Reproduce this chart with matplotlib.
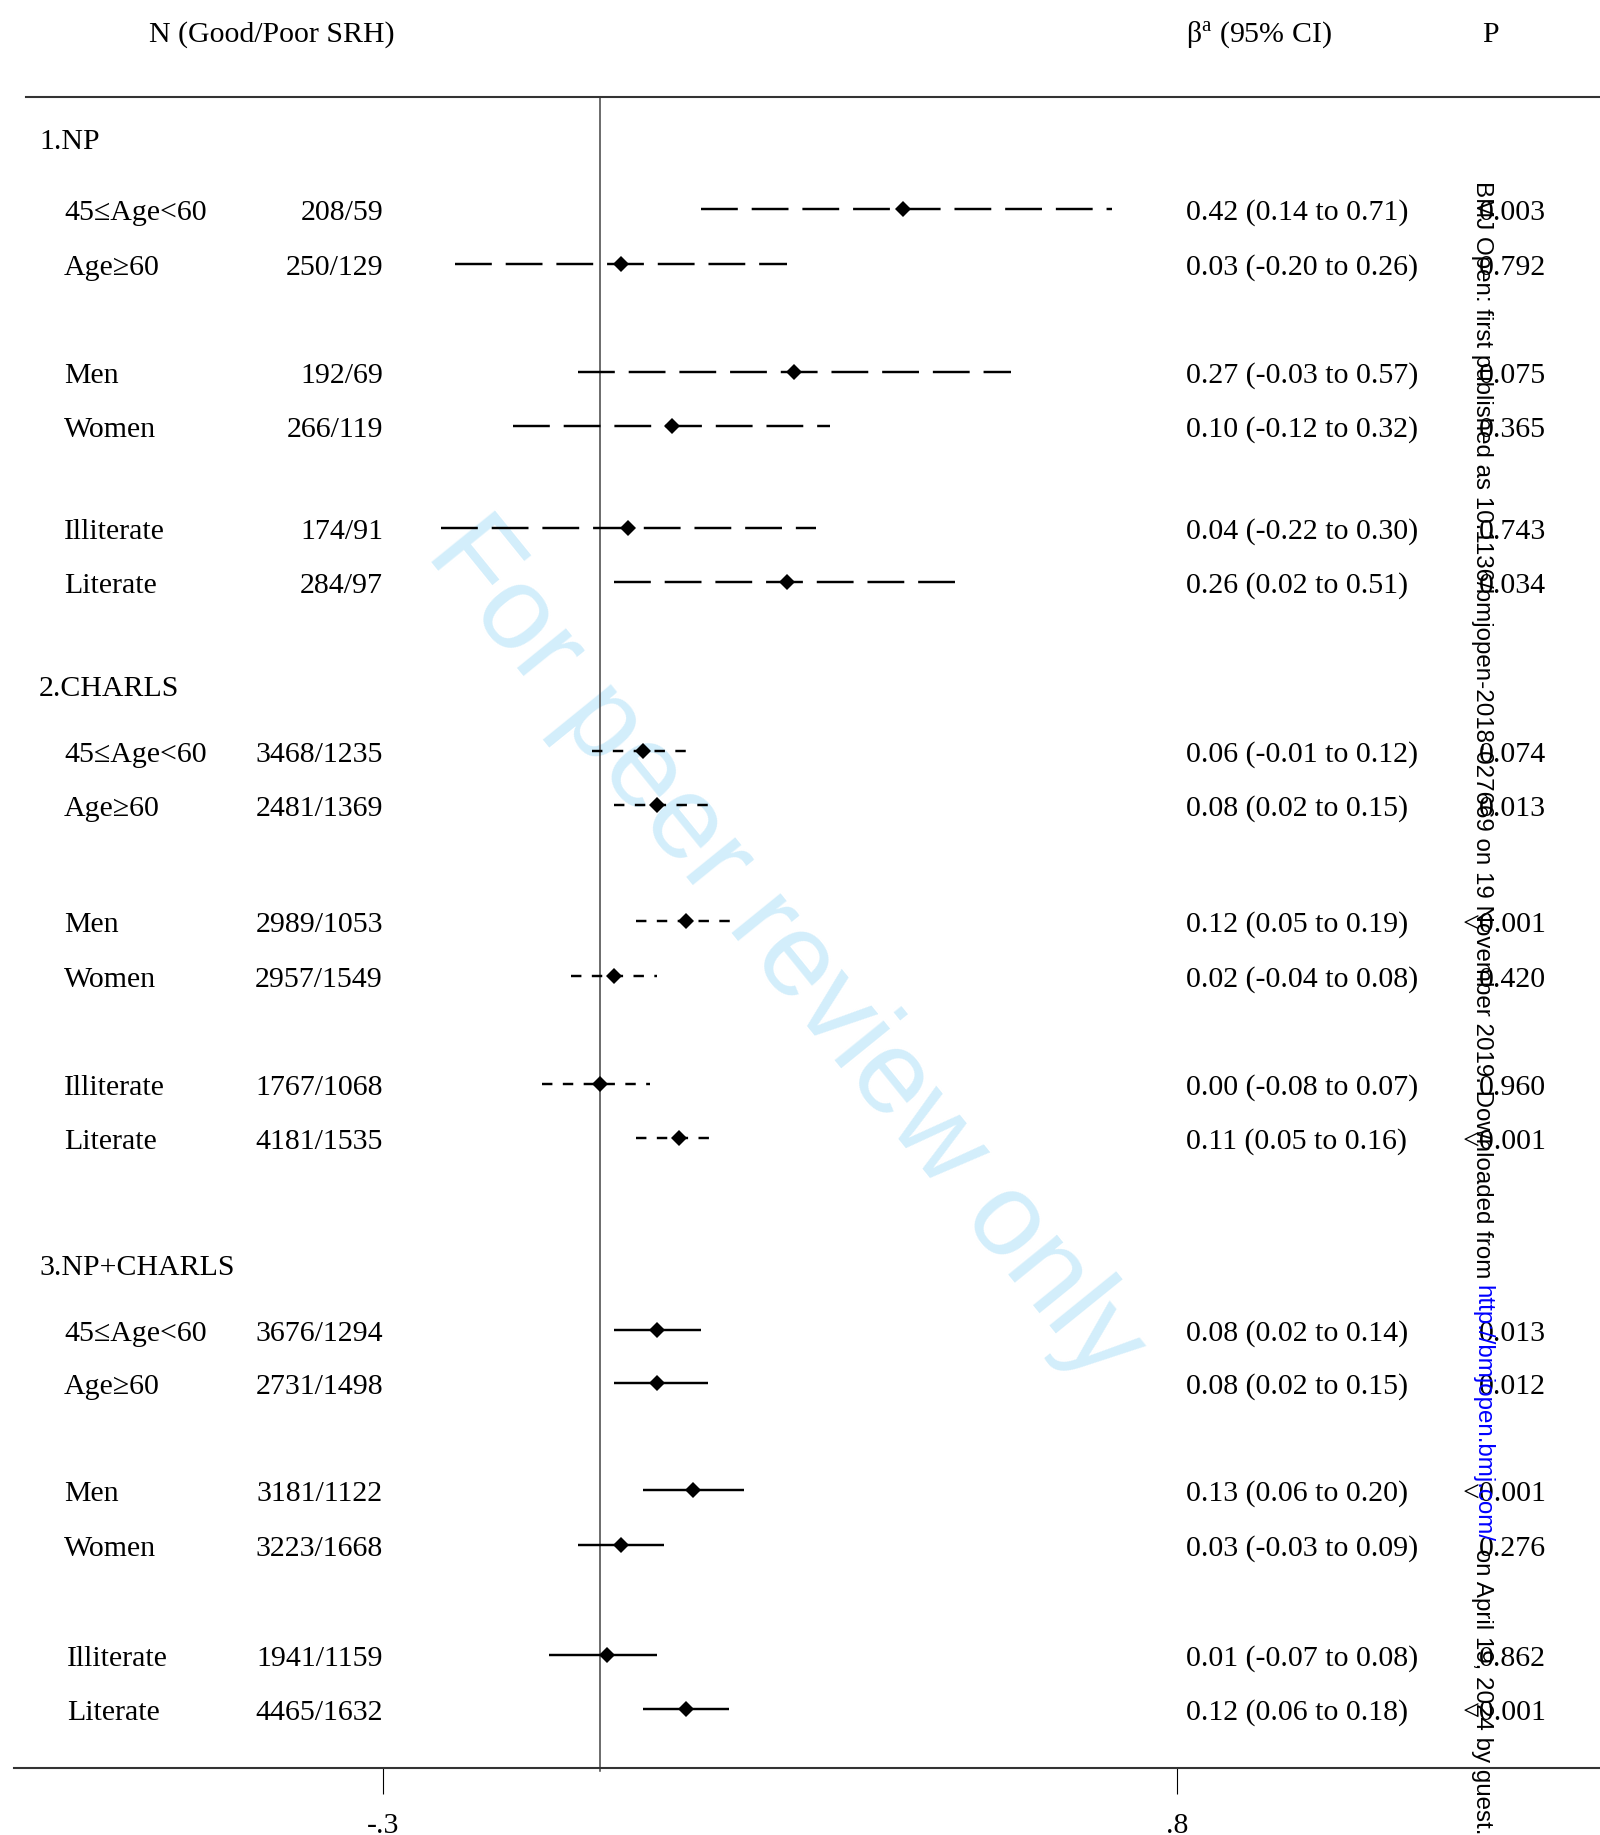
import matplotlib
matplotlib.use('Agg')
import matplotlib.pyplot as plt

plt.rcParams['font.family'] = ['Liberation Serif', 'DejaVu Serif']
plt.rcParams['mathtext.fontset'] = 'custom'
plt.rcParams['mathtext.rm'] = 'Liberation Serif'
plt.rcParams['lines.scale_dashes'] = False

# data
groups = ['1.NP', '2.CHARLS', '3.NP+CHARLS']
subgroups = ['45≤Age<60', 'Age≥60', 'Men', 'Women', 'Illiterate', 'Literate']

n_np = ['208/59', '250/129', '192/69', '266/119', '174/91', '284/97']
n_charls = ['3468/1235', '2481/1369', '2989/1053', '2957/1549', '1767/1068', '4181/1535']
n_both = ['3676/1294', '2731/1498', '3181/1122', '3223/1668', '1941/1159', '4465/1632']

beta_np = [0.42, 0.03, 0.27, 0.10, 0.04, 0.26]
lo_np = [0.14, -0.20, -0.03, -0.12, -0.22, 0.02]
hi_np = [0.71, 0.26, 0.57, 0.32, 0.30, 0.51]

beta_charls = [0.06, 0.08, 0.12, 0.02, 0.00, 0.11]
lo_charls = [-0.01, 0.02, 0.05, -0.04, -0.08, 0.05]
hi_charls = [0.12, 0.15, 0.19, 0.08, 0.07, 0.16]

beta_both = [0.08, 0.08, 0.13, 0.03, 0.01, 0.12]
lo_both = [0.02, 0.02, 0.06, -0.03, -0.07, 0.06]
hi_both = [0.14, 0.15, 0.20, 0.09, 0.08, 0.18]

p_np = ['0.003', '0.792', '0.075', '0.365', '0.743', '0.034']
p_charls = ['0.074', '0.013', '<0.001', '0.420', '0.960', '<0.001']
p_both = ['0.013', '0.012', '<0.001', '0.276', '0.862', '<0.001']

xticks = [-0.3, 0.8]
xticklabels = ['-.3', '.8']

# layout (pixel rows, figure is 1600 x 1835 px)
W, H = 1600, 1835
group_y = [142, 689, 1268]
row_y = [[209, 264, 372, 426, 528, 582],
         [751, 805, 921, 976, 1084, 1138],
         [1330, 1383, 1490, 1545, 1655, 1709]]
text_dy = 4
label_x = [[64] * 6, [64] * 6, [64, 64, 64, 64, 67, 67]]
dash_styles = [(0, (26.5, 10.0)), (0, (7.5, 7.5)), '-']
zero_px, unit_px = 599.5, 721.8
top_rule, bottom_rule = 97, 1768


def beta_of(px):
    return (px - zero_px) / unit_px


fig = plt.figure(figsize=(W / 100, H / 100), dpi=100)

# full-figure axes in pixel units for the table text
tab = fig.add_axes([0, 0, 1, 1], zorder=0)
tab.set_xlim(0, W)
tab.set_ylim(H, 0)
tab.axis('off')

# forest axes: x in beta units, y in pixel rows
ax = fig.add_axes([0, (H - bottom_rule) / H, 1, (bottom_rule - top_rule) / H], zorder=1)
ax.patch.set_visible(False)
ax.set_xlim(beta_of(0), beta_of(W))
ax.set_ylim(bottom_rule, top_rule)
for s in ['left', 'right']:
    ax.spines[s].set_visible(False)
ax.spines['top'].set_bounds(beta_of(26), beta_of(W))
ax.spines['bottom'].set_bounds(beta_of(14), beta_of(W))
for s in ['top', 'bottom']:
    ax.spines[s].set_linewidth(1.5)
    ax.spines[s].set_color('#333333')
ax.set_yticks([])
ax.set_xticks(xticks)
ax.set_xticklabels(xticklabels, fontsize=21.5)
ax.tick_params(axis='x', length=18.5, width=0.8, pad=14, color='black')

ax.plot([0, 0], [top_rule, bottom_rule + 3], color='#444444', lw=1.1, clip_on=False, zorder=2)

fs = 21.5
tab.text(272, 35, 'N (Good/Poor SRH)', ha='center', va='center', fontsize=fs)
tab.text(1186, 35, r'β$^{\mathrm{a}}$ (95% CI)', ha='left', va='center', fontsize=fs)
tab.text(1490, 35, 'P', ha='center', va='center', fontsize=fs)

all_n = [n_np, n_charls, n_both]
all_beta = [beta_np, beta_charls, beta_both]
all_lo = [lo_np, lo_charls, lo_both]
all_hi = [hi_np, hi_charls, hi_both]
all_p = [p_np, p_charls, p_both]

for g in range(3):
    tab.text(39, group_y[g], groups[g], ha='left', va='center', fontsize=fs)
    for i in range(6):
        y = row_y[g][i]
        ty = y + text_dy
        b, lo, hi = all_beta[g][i], all_lo[g][i], all_hi[g][i]
        tab.text(label_x[g][i], ty, subgroups[i], ha='left', va='center', fontsize=fs)
        tab.text(383, ty, all_n[g][i], ha='right', va='center', fontsize=fs)
        tab.text(1186, ty, f'{b:.2f} ({lo:.2f} to {hi:.2f})', ha='left', va='center', fontsize=fs)
        tab.text(1546, ty, all_p[g][i], ha='right', va='center', fontsize=fs)
        ax.plot([lo, hi], [y, y], color='black', lw=1.75, linestyle=dash_styles[g],
                solid_capstyle='butt', dash_capstyle='butt', zorder=3)
        ax.plot([b], [y], marker='D', markersize=8, color='black', mew=0, zorder=4)

# diagonal watermark
tab.text(785, 950, 'For peer review only', rotation=-51, ha='center', va='center',
         fontsize=85, color='#d3eefb', family='Liberation Sans', zorder=0)

# vertical side note
parts = [('BMJ Open: first published as 10.1136/bmjopen-2018-027669 on 19 November 2019. Downloaded from ', 'black'),
         ('http://bmjopen.bmj.com/', 'blue'),
         (' on April 19, 2024 by guest.', 'black')]
renderer = fig.canvas.get_renderer()
y = 181
for s, c in parts:
    t = tab.text(1482, y, s, rotation=-90, ha='center', va='top', fontsize=17.4,
                 color=c, family='Liberation Sans', zorder=5)
    y += t.get_window_extent(renderer).height

fig.savefig('out.png', dpi=100)
